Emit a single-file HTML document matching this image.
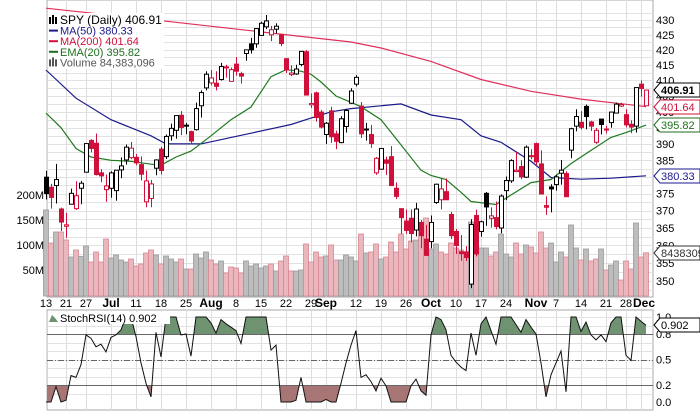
<!DOCTYPE html>
<html><head><meta charset="utf-8">
<style>
html,body{margin:0;padding:0;background:#fff;}
svg{display:block;font-family:"Liberation Sans",sans-serif;}
</style></head>
<body>
<svg id="chart" width="700" height="411" viewBox="0 0 700 411" xmlns="http://www.w3.org/2000/svg"></svg>
<script>
const opens=[379.9,376.9,377.4,370.5,365.5,371.9,370.6,376.6,381.4,391.1,390.2,381.2,376.2,376.6,375.9,382.1,385.1,385.8,385.9,383.7,372.6,373.6,382.6,388.4,386.1,392.5,394.2,398.9,395.8,393.8,394.4,401.9,407.6,409.2,409.1,410.3,414.4,409.7,415.3,412.2,418.8,422.0,422.0,424.8,427.7,425.0,426.9,425.0,417.1,411.9,412.1,415.2,419.4,402.2,406.0,399.9,392.9,400.3,393.1,390.4,395.4,402.7,408.8,401.8,394.5,392.9,381.2,382.3,385.1,386.1,376.6,370.6,367.0,367.8,364.4,366.6,361.8,361.1,372.4,373.2,375.6,368.9,364.0,358.2,358.2,349.2,368.6,364.0,375.1,367.8,368.0,365.0,375.9,378.8,381.6,383.1,379.9,386.4,390.1,383.9,371.5,377.0,377.7,381.1,381.0,388.1,395.5,396.7,401.7,396.8,390.5,397.7,394.6,396.6,399.6,401.8,399.1,396.1,395.5,408.8,401.9];
const highs=[381.8,377.9,383.9,370.9,369.4,376.5,378.7,378.8,390.1,391.4,393.2,382.3,380.7,381.7,382.0,385.9,389.8,390.6,386.9,386.2,381.9,379.1,385.3,389.1,392.9,396.3,398.8,400.2,396.5,394.1,402.9,406.8,413.0,413.4,413.0,415.7,415.1,414.2,417.6,412.8,420.1,424.0,427.2,429.4,431.7,428.0,428.9,425.3,417.2,414.9,415.1,419.6,419.9,405.8,406.4,400.6,396.8,401.6,394.1,398.6,400.9,407.5,411.7,403.1,396.5,395.9,386.0,388.5,386.1,389.3,378.3,370.6,370.4,370.4,372.3,367.3,365.9,368.6,378.0,379.5,379.5,369.7,364.7,363.0,359.8,367.5,370.3,367.1,375.5,371.0,372.7,374.8,380.1,385.3,387.6,385.0,389.5,388.4,390.4,388.0,374.2,377.8,380.6,385.1,381.7,395.0,400.8,400.2,402.3,397.2,394.9,397.8,395.6,400.0,402.9,402.9,400.8,397.3,407.7,410.0,407.1];
const lows=[373.3,370.6,372.1,364.1,362.2,371.8,370.2,371.9,381.4,387.4,380.4,378.4,372.6,373.8,372.9,379.6,383.7,385.3,383.5,378.9,371.0,371.0,380.5,380.7,385.4,391.0,391.6,392.7,393.0,389.9,394.1,398.2,406.8,408.4,406.8,410.0,410.9,409.6,411.5,409.0,416.4,418.8,420.7,424.7,426.9,422.9,425.5,421.2,412.4,411.4,411.8,414.6,405.2,401.2,396.9,394.8,390.0,390.3,388.4,390.2,393.5,402.5,408.1,391.8,391.0,388.8,380.6,382.2,380.6,377.4,373.4,363.3,363.3,360.9,362.6,359.2,357.0,359.2,372.0,370.4,373.2,361.8,357.6,355.7,355.6,348.1,356.9,362.5,365.6,365.1,364.6,363.5,373.1,378.2,381.4,379.3,379.7,385.3,383.3,374.8,368.8,369.5,375.9,377.7,374.1,385.6,393.9,394.5,394.5,394.0,390.0,392.9,393.2,395.0,399.6,401.5,395.1,393.3,393.5,404.8,401.9];
const closes=[375.0,373.9,379.2,366.7,365.9,375.1,374.4,378.1,390.1,388.6,380.7,380.3,377.3,381.2,382.0,383.3,389.0,388.7,384.2,380.8,378.8,377.9,385.1,381.9,392.3,394.8,398.8,395.1,395.6,390.9,401.0,406.1,412.0,410.8,408.1,414.5,414.2,413.5,413.0,411.4,420.0,420.0,427.1,428.9,429.7,426.7,427.9,422.1,413.4,412.4,413.7,419.5,405.3,402.6,398.2,395.2,396.4,392.2,390.8,397.8,400.4,406.6,411.0,393.1,394.6,390.1,385.6,388.6,384.1,377.4,374.2,368.0,364.3,363.4,370.5,362.8,357.2,366.6,377.8,376.4,373.2,362.8,360.0,357.7,356.6,366.0,357.6,366.8,371.1,368.5,365.4,374.3,378.9,384.9,382.0,380.0,389.0,386.2,384.5,374.9,371.0,376.4,380.0,382.0,374.1,394.7,398.5,395.1,398.5,395.5,394.2,396.0,394.6,399.9,402.4,402.3,395.9,395.2,407.7,407.4,406.9];
const volumes=[170,104,126,126,110,76,90,77,98,66,86,66,112,74,80,70,66,72,58,62,84,90,80,62,78,72,66,72,52,52,82,74,86,70,62,68,44,56,54,44,68,58,62,54,58,62,48,68,78,48,48,50,102,66,86,76,78,100,70,70,80,76,68,122,84,86,102,72,76,106,86,122,92,108,110,134,154,92,102,86,82,104,94,90,80,146,94,94,94,78,86,122,82,76,104,82,100,96,84,126,94,104,66,86,76,140,94,70,92,68,72,92,50,60,68,30,68,52,144,76,84.4];
const stochRsi=[0,0,0.18,0,0.02,0.31,0.29,0.44,0.79,0.75,0.65,0.68,0.59,0.76,0.79,0.85,1,1,0.77,0.46,0.22,0.06,0.82,0.53,1,1,1,0.79,0.8,0.54,1,1,1,0.93,0.81,0.97,0.92,0.88,0.84,0.69,1,1,1,1,1,0.61,0.67,0,0,0,0.02,0.29,0,0,0,0,0.03,0,0,0.22,0.46,0.67,0.84,0.29,0.32,0.24,0.13,0.28,0.19,0,0,0,0,0.19,0.27,0.13,0.08,0.79,1,0.97,0.85,0.55,0.47,0.41,0.37,0.81,0.55,0.92,1,0.84,0.68,1,1,1,0.91,0.82,0.97,0.88,0.8,0.46,0.06,0.32,0.46,0.6,0.12,1,1,0.83,0.94,0.79,0.73,0.79,0.71,0.93,1,1,0.55,0.49,1,0.95,0.902];
const ma50Idx=[0,6,13,21,24,31,41,49,53,57,61,71,77,83,87,91,97,101,107,113,120];
const ma50Val=[413.4,404.3,397.5,392.5,390,390,393.3,396,398,400,401,402.5,399,397.5,392.5,390.5,384.7,379.8,379.3,379.6,380.33];
const ma200Idx=[0,24,61,67,77,87,97,107,120];
const ma200Val=[434,429.6,422.6,420.6,416.2,410.3,406.5,404,401.64];
const ema20Idx=[0,3,6,9,13,17,21,23,26,29,33,37,41,45,48,51,53,55,58,61,63,67,71,75,77,80,83,85,90,93,97,101,105,109,113,116,120];
const ema20Val=[399.6,395,388.6,386,385,384.7,383.8,383.5,386,387.8,392.5,397.5,401.5,411.2,413.5,413,412,409.5,405,403,401.6,397.5,389.7,382,380.4,379.2,375.4,372.7,371.8,374.6,378.3,379.2,384,388,392,393.5,395.82];
const dateLabels=["13","21","27","Jul","11","18","25","Aug","8","15","22","29","Sep","12","19","26","Oct","10","17","24","Nov","7","14","21","28","Dec"];
const dateIdx=[0,4,8,13,18,23,28,33,38,43,48,53,56,62,67,72,77,82,87,92,98,102,107,112,116,119];
const priceTicks=[350,355,360,365,370,375,380,385,390,395,400,405,410,415,420,425,430];
const volTicks=[50,100,150,200];
const stochTicks=[0,0.2,0.5,0.8,1.0];

const NS="http://www.w3.org/2000/svg";
const svg=document.getElementById('chart');
const L=47,R=653;
const xOf=i=>46+5*i;
const yP=p=>20+1269*Math.log(430/p);
const yV=v=>295-v*0.5;
const yS=v=>402-85*v;
const RED="#d0103a";
function mk(tag,attrs,parent){const e=document.createElementNS(NS,tag);for(const k in attrs)e.setAttribute(k,attrs[k]);(parent||svg).appendChild(e);return e;}

// panels
const pp=mk('rect',{x:L,y:0,width:R-L,height:297,fill:'#fff',stroke:'#aaa'});


const sp=mk('rect',{x:L,y:310,width:R-L,height:100,fill:'#fff',stroke:'#aaa'});



// grid
const grid=mk('g',{stroke:'#e2e2e2','stroke-width':1});


for(let p=347.5;p<=432.5;p+=2.5){const y=Math.round(yP(p))+0.5;if(y>0&&y<297)mk('line',{x1:L,x2:R,y1:y,y2:y},grid);}
dateIdx.forEach(i=>{const x=xOf(i)+0.5;mk('line',{x1:x,x2:x,y1:0,y2:297,stroke:'#ddd'},grid);mk('line',{x1:x,x2:x,y1:310,y2:410,stroke:'#ddd'},grid);});
for(let v=0.1;v<1;v+=0.1){const y=Math.round(yS(v))+0.5;mk('line',{x1:L,x2:R,y1:y,y2:y},grid);}

// volume bars
const vg=mk('g',{});


volumes.forEach((v,i)=>{const down=i>0&&closes[i]<closes[i-1];
 const r=mk('rect',{x:xOf(i)-2.5,y:yV(v),width:5,height:295-yV(v)+1,fill:down?'#e9b7bd':'#bdbdbd',stroke:down?'#d88892':'#9a9a9a','stroke-width':0.8},vg);
 
 });

// MA lines
function line(idx,val,color,name){const pts=idx.map((i,k)=>xOf(i)+','+yP(val[k]).toFixed(1)).join(' ');
 const e=mk('polyline',{points:pts,fill:'none',stroke:color,'stroke-width':1.2});
 
 }
line(ma200Idx,ma200Val,'#e0305a','ma200-line');
line(ma50Idx,ma50Val,'#1a1a8c','ma50-line');
line(ema20Idx,ema20Val,'#1f7a1f','ema20-line');

// candles
const cg=mk('g',{});


closes.forEach((c,i)=>{const o=opens[i];const down=i>0&&c<closes[i-1];const col=down?RED:'#000';
 const x=xOf(i)+0.5;
 const w=mk('line',{x1:x,x2:x,y1:yP(highs[i]),y2:yP(lows[i]),stroke:col,'stroke-width':1},cg);
 
 
 const top=yP(Math.max(o,c)),bot=yP(Math.min(o,c));
 const b=mk('rect',{x:x-2,y:top,width:4,height:Math.max(1,bot-top),fill:c<o?col:'#fff',stroke:col,'stroke-width':1},cg);
 
 });

// stoch
const sg=mk('g',{});


const defs=mk('defs',{});
const c1=mk('clipPath',{id:'cHi'},defs);mk('rect',{x:L,y:310,width:R-L,height:yS(0.8)-310},c1);
const c2=mk('clipPath',{id:'cLo'},defs);mk('rect',{x:L,y:yS(0.2),width:R-L,height:410-yS(0.2)},c2);
const spts=stochRsi.map((v,i)=>xOf(i)+','+yS(v).toFixed(1));
const n=stochRsi.length-1;
const hi=mk('polygon',{points:xOf(0)+','+yS(0.8)+' '+spts.join(' ')+' '+xOf(n)+','+yS(0.8),fill:'#6f9370','clip-path':'url(#cHi)'},sg);


const lo=mk('polygon',{points:xOf(0)+','+yS(0.2)+' '+spts.join(' ')+' '+xOf(n)+','+yS(0.2),fill:'#a87575','clip-path':'url(#cLo)'},sg);


[[0.8,''],[0.2,''],[0.5,'6,2,1,2']].forEach(([v,d])=>{const y=Math.round(yS(v))+0.5;const e=mk('line',{x1:L,x2:R,y1:y,y2:y,stroke:'#666','stroke-width':1,'stroke-dasharray':d},sg);
 
 });
const sl=mk('polyline',{points:spts.join(' '),fill:'none',stroke:'#111','stroke-width':1},sg);



// axes text
function txt(x,y,s,attrs,name){const t=mk('text',Object.assign({x:x,y:y,'font-size':11,fill:'#000'},attrs||{}));t.textContent=s;
 
 return t;}
priceTicks.forEach(p=>{const y=yP(p);if(y<290)txt(656,y+4,String(p),{},'price-tick-label');});
volTicks.forEach(v=>txt(44,yV(v)+4,v+'M',{'text-anchor':'end'},'volume-tick-label'));
stochTicks.forEach(v=>txt(656,yS(v)+4,v.toFixed(1),{},'stoch-tick-label'));
dateLabels.forEach((s,k)=>{const bold=isNaN(+s);txt(xOf(dateIdx[k])+(s==='Dec'?3:0),307,s,{'text-anchor':'middle','font-weight':bold?'bold':'normal','font-size':bold?12:11},'date-label');});

// value tags
function tag(y,s,color,name){const g=mk('g',{});
 
 
 mk('polygon',{points:`654,${y} 660,${y-7} 700,${y-7} 700,${y+7} 660,${y+7}`,fill:'#fff',stroke:color,'stroke-width':1},g);
 const t=mk('text',{x:661,y:y+4,'font-size':11,fill:color,'font-weight':name==='last-price-tag'?'bold':'normal'},g);t.textContent=s;}
tag(90,'406.91','#000','last-price-tag');
tag(107,'401.64',RED,'ma200-tag');
tag(125,'395.82','#1f6e1f','ema20-tag');
tag(176,'380.33','#1a1a8c','ma50-tag');
tag(253,'84383096','#333','volume-tag');
tag(325,'0.902','#000','stochrsi-tag');

// legend
const lg=mk('g',{});


mk('rect',{x:48,y:13,width:116,height:56,fill:'#fff'},lg);
[['SPY (Daily) 406.91','#000',null],['MA(50) 380.33','#1a1a8c','line'],['MA(200) 401.64',RED,'line'],['EMA(20) 395.82','#1f6e1f','line'],['Volume 84,383,096','#555','bars']].forEach(([s,c,k],j)=>{
 const y=24+j*10.6;
 if(k==='line')mk('line',{x1:49,x2:58,y1:y-4,y2:y-4,stroke:c,'stroke-width':2},lg);
 else{for(let q=0;q<3;q++)mk('rect',{x:49+q*3,y:y-8+(q===1?-1:1),width:2,height:8-(q===1?-1:1),fill:c},lg);}
 const t=mk('text',{x:60,y:y,'font-size':k?11:12,fill:c},lg);t.textContent=s;
 
 });
const sl2=mk('g',{});


mk('rect',{x:48,y:312,width:122,height:12,fill:'#fff'},sl2);
mk('polygon',{points:'49,322 52,315 55,318 58,322',fill:'#6f9370'},sl2);
const st=mk('text',{x:60,y:322,'font-size':11,fill:'#000'},sl2);st.textContent='StochRSI(14) 0.902';
</script>
</body></html>
